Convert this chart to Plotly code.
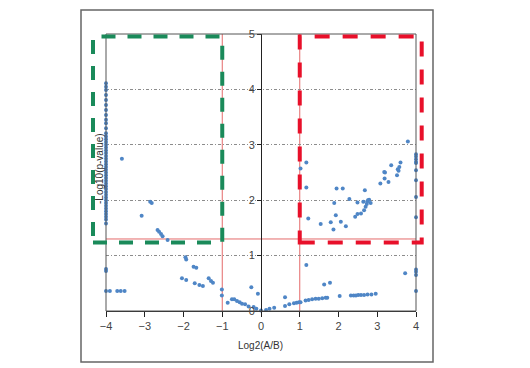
import plotly.graph_objects as go

# ---- data ----
left_col_y = [4.11, 4.05, 3.99, 3.90, 3.81, 3.72, 3.63, 3.54, 3.45, 3.39, 3.30, 3.21,
              3.15, 3.10, 3.05, 3.00, 2.95, 2.90, 2.85, 2.80, 2.75, 2.70, 2.65, 2.60,
              2.55, 2.50, 2.45, 2.40, 2.35, 2.30, 2.25, 2.20, 2.15, 2.10, 2.05, 2.00,
              1.95, 1.90, 1.85, 1.80, 1.75, 1.70, 1.65, 1.58, 0.76, 0.72, 0.36]
left_col_x = [-4.0] * len(left_col_y)

neg_x = [-3.9, -3.71, -3.62, -3.52, -3.59, -3.08, -2.86, -2.82, -2.67, -2.63, -2.58, -2.54,
         -2.41, -1.95, -1.93, -1.74, -1.67, -2.04, -1.93, -1.71, -1.59, -1.50, -1.35, -1.29,
         -1.24, -1.01, -1.01, -0.86, -0.75, -0.69, -0.62, -0.55, -0.49, -0.41, -0.32, -0.25,
         -0.19, -0.12, -0.08, 0.0]
neg_y = [0.36, 0.36, 0.36, 0.36, 2.75, 1.72, 1.97, 1.95, 1.46, 1.43, 1.39, 1.35,
         1.28, 0.97, 0.93, 0.80, 0.78, 0.59, 0.56, 0.50, 0.47, 0.45, 0.59, 0.54,
         0.51, 0.39, 0.28, 0.15, 0.21, 0.21, 0.18, 0.16, 0.13, 0.12, 0.08, 0.43,
         0.07, 0.04, 0.31, 0.01]

pos_low_x = [0.13, 0.22, 0.34, 0.62, 0.73, 0.62, 0.85, 0.92, 0.98, 1.02, 1.15, 1.23, 1.32,
             1.41, 1.49, 1.58, 1.67, 1.71, 2.03, 2.32, 2.39, 2.45, 2.51, 2.58, 2.66, 2.75,
             2.85, 2.96, 1.63, 1.78, 1.17, 3.72, 4.0, 4.0, 4.0, 4.0]
pos_low_y = [0.02, 0.04, 0.06, 0.09, 0.12, 0.25, 0.14, 0.15, 0.16, 0.16, 0.19, 0.20, 0.21,
             0.22, 0.22, 0.23, 0.24, 0.24, 0.27, 0.28, 0.28, 0.28, 0.29, 0.29, 0.29, 0.30,
             0.30, 0.31, 0.48, 0.51, 0.83, 0.68, 0.75, 0.71, 0.65, 0.36]

pos_high_x = [1.17, 1.02, 1.17, 1.22, 1.54, 1.80, 1.87, 1.93, 1.89, 1.95, 2.11, 2.06, 2.19,
              2.28, 2.43, 2.49, 2.58, 2.49, 2.68, 2.66, 2.70, 2.73, 2.74, 2.76, 2.83, 2.79,
              2.64, 3.08, 3.19, 3.20, 3.29, 3.36, 3.51, 3.53, 3.57, 3.60, 3.55, 3.18, 3.79,
              4.0, 4.0, 4.0, 4.0, 4.0, 4.0, 4.0, 4.0, 4.0]
pos_high_y = [2.68, 2.57, 2.23, 1.67, 1.57, 1.60, 1.47, 1.73, 1.95, 2.21, 2.21, 1.61, 1.53,
              2.02, 1.70, 1.75, 1.76, 1.96, 2.18, 1.82, 1.88, 1.93, 1.97, 2.00, 1.95, 2.01,
              1.97, 2.30, 2.39, 2.50, 2.33, 2.63, 2.45, 2.56, 2.60, 2.68, 2.53, 2.51, 3.06,
              2.83, 2.79, 2.74, 2.69, 2.67, 2.54, 2.36, 2.06, 1.69]

x_ticks = [-4, -3, -2, -1, 0, 1, 2, 3, 4]
y_ticks = [0, 1, 2, 3, 4, 5]
fc_cut = 1.0
p_cut = 1.3

xs = left_col_x + neg_x + pos_low_x + pos_high_x
ys = left_col_y + neg_y + pos_low_y + pos_high_y

# ---- layout geometry ----
W, H = 530, 368
L, R, T, B = 106, 114, 34, 57
pw, ph = W - L - R, H - T - B

def px(xp):
    return (xp - L) / pw

def py(yp):
    return (H - B - yp) / ph

fig = go.Figure()
fig.add_trace(go.Scatter(x=xs, y=ys, mode="markers", cliponaxis=False,
                         marker=dict(size=4, color="#4f86c6"), showlegend=False))

shapes = []
red = "#e46a6a"
shapes.append(dict(type="line", xref="x", yref="y", x0=-fc_cut, x1=-fc_cut, y0=0, y1=5,
                   line=dict(color=red, width=1), layer="below"))
shapes.append(dict(type="line", xref="x", yref="y", x0=fc_cut, x1=fc_cut, y0=0, y1=5,
                   line=dict(color=red, width=1), layer="below"))
shapes.append(dict(type="line", xref="x", yref="y", x0=-4, x1=4, y0=p_cut, y1=p_cut,
                   line=dict(color=red, width=1), layer="below"))
shapes.append(dict(type="rect", xref="paper", yref="paper", x0=0, x1=1, y0=0, y1=1,
                   line=dict(color="#555555", width=1)))
shapes.append(dict(type="rect", xref="paper", yref="paper", x0=px(81), x1=px(433),
                   y0=py(362), y1=py(10), line=dict(color="#666666", width=1.5)))
shapes.append(dict(type="rect", xref="paper", yref="paper", x0=px(93), x1=0.375,
                   y0=py(242.5), y1=py(36.5),
                   line=dict(color="#1a8a5a", width=4, dash="14px,12px")))
shapes.append(dict(type="rect", xref="paper", yref="paper", x0=0.625, x1=px(421.7),
                   y0=py(242.5), y1=py(36.5),
                   line=dict(color="#e8102a", width=4, dash="15px,13px")))

fig.update_layout(
    width=W, height=H,
    margin=dict(l=L, r=R, t=T, b=B, pad=0),
    paper_bgcolor="white", plot_bgcolor="white",
    font=dict(family="Liberation Sans, Arial, sans-serif", size=11, color="#444444"),
    shapes=shapes,
    xaxis=dict(range=[-4, 4], tickvals=x_ticks, ticks="outside", ticklen=5,
               tickcolor="#222222", showline=True, linecolor="#222222", linewidth=1,
               showgrid=False, zeroline=False, tickfont=dict(size=11)),
    yaxis=dict(range=[0, 5], tickvals=y_ticks, ticks="outside", ticklen=4,
               tickcolor="#222222", showline=True, linecolor="#222222", linewidth=1,
               anchor="free", position=0.5, showgrid=True, gridcolor="#8c8c8c",
               griddash="3px,2px,1px,2px", gridwidth=1, zeroline=False,
               tickfont=dict(size=11)),
    annotations=[
        dict(text="-Log10(p-value)", xref="paper", yref="paper", x=px(99), y=py(169),
             textangle=-90, showarrow=False, font=dict(size=10, color="#333333"),
             xanchor="center", yanchor="middle"),
        dict(text="Log2(A/B)", xref="paper", yref="paper", x=px(260), y=py(345),
             showarrow=False, font=dict(size=10, color="#333333"),
             xanchor="center", yanchor="middle"),
    ],
)

fig.write_html("out.html", config={"displayModeBar": False},
               post_script="document.body.style.margin='0';document.body.style.overflow='hidden';")
